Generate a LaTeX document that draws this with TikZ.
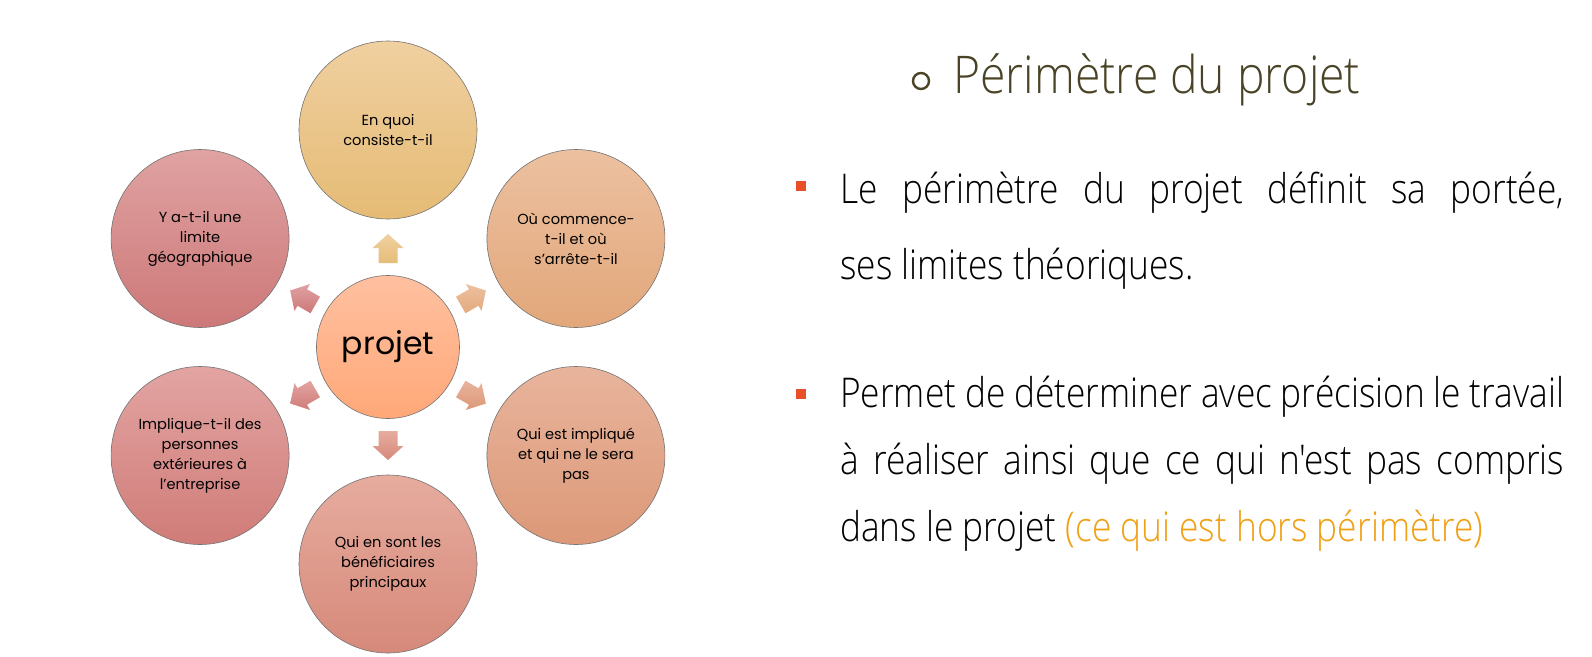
\documentclass[tikz,border=0pt]{standalone}
\usepackage{fontspec}
\usetikzlibrary{calc}
\newfontfamily\pop{Poppins}
\IfFontExistsTF{Open Sans Light}{%
  \newfontfamily\seg{Open Sans Light}[FakeStretch=0.86]%
  \newfontfamily\segt{Open Sans Light}[FakeStretch=0.89]}{%
  \newfontfamily\seg{Open Sans}[FakeStretch=0.86]%
  \newfontfamily\segt{Open Sans}[FakeStretch=0.89]}
\definecolor{titlec}{RGB}{74,68,39}
\definecolor{bulc}{RGB}{232,80,42}
\definecolor{orangec}{RGB}{241,160,20}
\definecolor{t1}{RGB}{240,208,160}\definecolor{b1}{RGB}{229,187,117}
\definecolor{t2}{RGB}{236,192,160}\definecolor{b2}{RGB}{226,167,122}
\definecolor{t3}{RGB}{232,180,156}\definecolor{b3}{RGB}{220,152,120}
\definecolor{t4}{RGB}{230,172,158}\definecolor{b4}{RGB}{214,137,122}
\definecolor{t5}{RGB}{226,164,162}\definecolor{b5}{RGB}{208,124,120}
\definecolor{t6}{RGB}{224,162,162}\definecolor{b6}{RGB}{205,120,120}
\definecolor{tc}{RGB}{255,192,160}\definecolor{bc}{RGB}{255,168,120}
\tikzset{
  bubble/.style={circle, draw=black!55, line width=0.6pt, minimum size=178pt, inner sep=0pt,
    align=center, font=\pop\fontsize{14.6}{20}\selectfont},
  hub/.style={circle, draw=black!55, line width=0.6pt, minimum size=143pt, inner sep=0pt,
    font=\pop\fontsize{31.5}{36}\selectfont, top color=tc, bottom color=bc},
  sq/.style={rectangle, fill=bulc, minimum size=10pt, inner sep=0pt},
  body/.style={anchor=base west, inner sep=0pt, font=\seg\fontsize{41}{48}\selectfont},
}
\newcommand\blockarrow[3]{%
  \shade[top color=#2, bottom color=#3]
    ($(c)+(#1:84)+(#1+90:9.5)$) -- ($(c)+(#1:99)+(#1+90:9.5)$) -- ($(c)+(#1:99)+(#1+90:15.5)$)
    -- ($(c)+(#1:113)$) -- ($(c)+(#1:99)+(#1-90:15.5)$) -- ($(c)+(#1:99)+(#1-90:9.5)$)
    -- ($(c)+(#1:84)+(#1-90:9.5)$) -- cycle;}
\begin{document}
\begin{tikzpicture}[x=1pt,y=-1pt]
\useasboundingbox (0,0) rectangle (1592,656);
\fill[white] (0,0) rectangle (1592,656);
% hub
\node[hub] (c) at (388,347) {projet};
% outer bubbles
\node[bubble, top color=t1, bottom color=b1] (n1) at ($(c)+(270:217)$) {En quoi\\consiste-t-il};
\node[bubble, top color=t2, bottom color=b2] (n2) at ($(c)+(330:217)$) {Où commence-\\t-il et où\\s’arrête-t-il};
\node[bubble, top color=t3, bottom color=b3] (n3) at ($(c)+(30:217)$) {Qui est impliqué\\et qui ne le sera\\pas};
\node[bubble, top color=t4, bottom color=b4] (n4) at ($(c)+(90:217)$) {Qui en sont les\\bénéficiaires\\principaux};
\node[bubble, top color=t5, bottom color=b5] (n5) at ($(c)+(150:217)$) {Implique-t-il des\\personnes\\extérieures à\\l’entreprise};
\node[bubble, top color=t6, bottom color=b6] (n6) at ($(c)+(210:217)$) {Y a-t-il une\\limite\\géographique};
% block arrows
\blockarrow{270}{t1}{b1!90!t1}
\blockarrow{330}{t2}{b2!90!t2}
\blockarrow{30}{t3}{b3}
\blockarrow{90}{t4}{b4}
\blockarrow{150}{t5}{b5}
\blockarrow{210}{t6}{b6}
% title
\node[circle, draw=titlec, line width=2.4pt, minimum size=16pt, inner sep=0pt] (tb) at (921,81) {};
\node[anchor=base west, inner sep=0pt, text=titlec, font=\segt\fontsize{52}{60}\selectfont] (title) at (953,93) {Périmètre du projet};
% bullet 1
\node[sq] (s1) at (801,186) {};
\node[body] (l1) at (840,203) {\makebox[724pt][s]{Le périmètre du projet définit sa portée,}};
\node[body] (l2) at (840,279) {ses limites théoriques.};
% bullet 2
\node[sq] (s2) at (801,394) {};
\node[body] (l3) at (840,407) {\makebox[724pt][s]{Permet de déterminer avec précision le travail}};
\node[body] (l4) at (840,474) {\makebox[724pt][s]{à réaliser ainsi que ce qui n'est pas compris}};
\node[body] (l5) at (840,541) {dans le projet \textcolor{orangec}{(ce qui est hors périmètre)}};
\end{tikzpicture}
\end{document}
